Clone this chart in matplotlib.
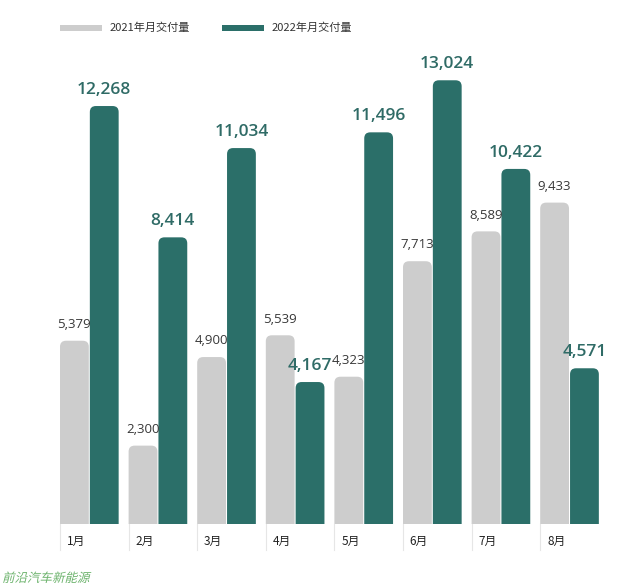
import matplotlib
matplotlib.use("Agg")
import matplotlib.pyplot as plt
from matplotlib.patches import FancyBboxPatch, Rectangle, PathPatch
from matplotlib.textpath import TextPath
from matplotlib.font_manager import FontProperties
from matplotlib.transforms import blended_transform_factory, Affine2D, IdentityTransform

plt.rcParams["font.family"] = ["Noto Sans CJK SC", "DejaVu Sans"]

months = ["1月", "2月", "3月", "4月", "5月", "6月", "7月", "8月"]
sales_2021 = [5379, 2300, 4900, 5539, 4323, 7713, 8589, 9433]
sales_2022 = [12268, 8414, 11034, 4167, 11496, 13024, 10422, 4571]
series_names = ["2021年月交付量", "2022年月交付量"]

GRAY = "#cdcdcd"
TEAL = "#2b6f69"
NUM_FONT = ["Open Sans", "DejaVu Sans"]

W, H = 640, 585
fig = plt.figure(figsize=(W / 100, H / 100), dpi=100)
fig.patch.set_facecolor("white")

# axes: x data 0 at pixel 60, one group = 68.6 px; y 0 at pixel 524
pitch = 68.6
ax_left, ax_right, ax_bottom, ax_top = 50, 615, 524, 60
ax = fig.add_axes([ax_left / W, (H - ax_bottom) / H,
                   (ax_right - ax_left) / W, (ax_bottom - ax_top) / H])
ax.set_xlim(-(60 - ax_left) / pitch, (ax_right - 60) / pitch)
ax.set_ylim(0, (ax_bottom - ax_top) / 0.03407)
ax.axis("off")

# ratio of y units to x units per pixel, for round tops
(x0, y0), (x1, y1) = ax.transData.transform([(0, 0), (1, 1000)])
aspect = abs((1000 / (y1 - y0)) * (x1 - x0))

bar_w = 0.42
offsets = [0.0, 0.435]
radius = 6 / pitch

for s, (vals, col) in enumerate([(sales_2021, GRAY), (sales_2022, TEAL)]):
    for i, v in enumerate(vals):
        left = i + offsets[s]
        # start below the axis so the lower corners get clipped away
        bottom = -radius * aspect * 2
        p = FancyBboxPatch((left, bottom), bar_w, v - bottom,
                           boxstyle=f"round,pad=0,rounding_size={radius}",
                           mutation_aspect=aspect, facecolor=col,
                           edgecolor="none")
        ax.add_patch(p)
        if s == 0:
            ax.annotate(f"{v:,}", (left + bar_w / 2, v), xytext=(0, 7),
                        textcoords="offset points", ha="center", va="bottom",
                        fontsize=9.5, color="#383838", family=NUM_FONT)
        else:
            ax.annotate(f"{v:,}", (left + bar_w / 2, v), xytext=(0, 6),
                        textcoords="offset points", ha="center", va="bottom",
                        fontsize=12.5, fontweight="semibold", color="#2f6b66",
                        family=NUM_FONT)

# separators and month labels below the bars
trans = blended_transform_factory(ax.transData, fig.transFigure)
for i, m in enumerate(months):
    ax.plot([i, i], [(H - 524) / H, (H - 550) / H], transform=trans,
            color="#e6e6e6", lw=0.8, clip_on=False)
    ax.text(i + 0.1, (H - 541) / H, m, transform=trans, ha="left",
            va="center", fontsize=8.5, color="#222222")

# legend
for (px, tx), col, name in zip([(60, 110), (222, 272)], [GRAY, TEAL], series_names):
    fig.add_artist(Rectangle((px / W, (H - 31) / H), 42 / W, 6 / H,
                             transform=fig.transFigure, facecolor=col,
                             edgecolor="none"))
    fig.text(tx / W, (H - 28) / H, name, ha="left", va="center",
             fontsize=8, color="#333333")

# watermark, slanted by hand since the CJK font has no italic
wm = TextPath((0, 0), "前沿汽车新能源", size=12.5,
              prop=FontProperties(family="Noto Sans CJK SC"))
wm_tr = Affine2D().skew_deg(14, 0).translate(2, H - 582) + IdentityTransform()
fig.add_artist(PathPatch(wm, transform=wm_tr, facecolor="#6cb36c",
                         edgecolor="none"))

fig.savefig("out.png", dpi=100, facecolor="white")
